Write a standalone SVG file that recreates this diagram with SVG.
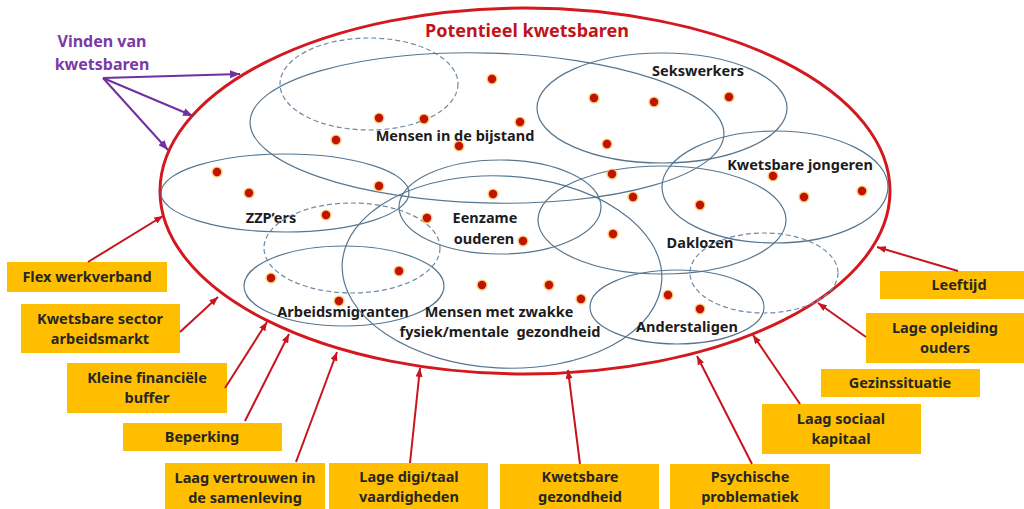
<svg xmlns="http://www.w3.org/2000/svg" xmlns:xlink="http://www.w3.org/1999/xlink" width="1024" height="509" viewBox="0 0 1024 509">
<style>
.main{fill:none;stroke:#d3191f;stroke-width:3}
.grp{fill:none;stroke:#56768f;stroke-width:1.2}
.dash{fill:none;stroke:#6f8ba3;stroke-width:1.2;stroke-dasharray:5 3}
.lbl{font-family:"Noto Sans","Liberation Sans",sans-serif;font-weight:700;font-size:14.5px;fill:#1c1c1c;text-anchor:middle}
.title{font-family:"Noto Sans","Liberation Sans",sans-serif;font-weight:700;font-size:18px;fill:#c0141c;text-anchor:middle}
.purple{font-family:"Noto Sans","Liberation Sans",sans-serif;font-weight:700;font-size:16px;fill:#7a3aa6;text-anchor:middle}
.box{fill:#ffbf00}
.btxt{font-family:"Noto Sans","Liberation Sans",sans-serif;font-weight:700;font-size:14.5px;fill:#262626;text-anchor:middle}
.red{fill:none;stroke:#c8141c;stroke-width:2;marker-end:url(#ar)}
.pur{fill:none;stroke:#7030a0;stroke-width:2;marker-end:url(#ap)}
</style>
<defs>
<marker id="ar" viewBox="0 0 10 8" refX="10" refY="4" markerWidth="9" markerHeight="7" markerUnits="userSpaceOnUse" orient="auto"><path d="M0,0 L10,4 L0,8 z" fill="#c8141c"/></marker>
<marker id="ap" viewBox="0 0 10 8" refX="10" refY="4" markerWidth="10" markerHeight="8" markerUnits="userSpaceOnUse" orient="auto"><path d="M0,0 L10,4 L0,8 z" fill="#7030a0"/></marker>
<g id="dot"><circle r="5.6" fill="#f6b545" opacity="0.7"/><circle r="4.2" fill="#c01400"/></g>
</defs>
<rect width="1024" height="509" fill="#ffffff"/>

<g id="potentieel">
<ellipse class="main" cx="525" cy="191" rx="365" ry="183"/>
<text class="title" x="527" y="37">Potentieel kwetsbaren</text>
</g>

<g id="vinden">
<text class="purple" x="102" y="47">Vinden van</text>
<text class="purple" x="102" y="70">kwetsbaren</text>
</g>

<g id="dashed-top"><ellipse class="dash" cx="369" cy="84" rx="89" ry="46"/></g>
<g id="bijstand"><ellipse class="grp" cx="487" cy="128" rx="237" ry="75" transform="rotate(1.5 487 128)"/><text class="lbl" x="455" y="141">Mensen in de bijstand</text></g>
<g id="sekswerkers"><ellipse class="grp" cx="662" cy="108" rx="125" ry="55"/><text class="lbl" x="698" y="76">Sekswerkers</text></g>
<g id="jongeren"><ellipse class="grp" cx="775" cy="187" rx="113" ry="56"/><text class="lbl" x="800" y="170">Kwetsbare jongeren</text></g>
<g id="zzp"><ellipse class="grp" cx="285" cy="193" rx="124" ry="39"/><text class="lbl" x="271" y="223">ZZP’ers</text></g>
<g id="eenzame"><ellipse class="grp" cx="500" cy="207" rx="101" ry="47"/><text class="lbl" x="485" y="223">Eenzame</text><text class="lbl" x="484" y="244">ouderen</text></g>
<g id="daklozen"><ellipse class="grp" cx="662" cy="220" rx="124" ry="54"/><text class="lbl" x="700" y="248">Daklozen</text></g>
<g id="dashed-mid"><ellipse class="dash" cx="352" cy="248" rx="88" ry="45"/></g>
<g id="arbeidsmigranten"><ellipse class="grp" cx="344" cy="286" rx="100" ry="40"/><text class="lbl" x="343" y="317">Arbeidsmigranten</text></g>
<g id="zwakke"><ellipse class="grp" cx="502" cy="272" rx="160" ry="96" transform="rotate(3 502 272)"/><text class="lbl" x="499" y="317">Mensen met zwakke</text><text class="lbl" x="500" y="337" xml:space="preserve">fysiek/mentale  gezondheid</text></g>
<g id="anderstaligen"><ellipse class="grp" cx="677" cy="307" rx="87" ry="37"/><text class="lbl" x="687" y="332">Anderstaligen</text></g>
<g id="dashed-right"><ellipse class="dash" cx="764" cy="273" rx="74" ry="40"/></g>

<g id="dots">
<use href="#dot" x="492" y="79"/><use href="#dot" x="379" y="118"/><use href="#dot" x="424" y="119"/><use href="#dot" x="520" y="122"/>
<use href="#dot" x="336" y="140"/><use href="#dot" x="459" y="146"/><use href="#dot" x="594" y="98"/><use href="#dot" x="654" y="102"/>
<use href="#dot" x="729" y="97"/><use href="#dot" x="607" y="144"/><use href="#dot" x="217" y="172"/><use href="#dot" x="249" y="193"/>
<use href="#dot" x="379" y="186"/><use href="#dot" x="493" y="194"/><use href="#dot" x="612" y="174"/><use href="#dot" x="633" y="197"/>
<use href="#dot" x="773" y="176"/><use href="#dot" x="804" y="197"/><use href="#dot" x="862" y="191"/><use href="#dot" x="700" y="205"/>
<use href="#dot" x="326" y="215"/><use href="#dot" x="427" y="218"/><use href="#dot" x="523" y="241"/><use href="#dot" x="613" y="234"/>
<use href="#dot" x="271" y="278"/><use href="#dot" x="399" y="271"/><use href="#dot" x="482" y="285"/><use href="#dot" x="549" y="285"/>
<use href="#dot" x="581" y="299"/><use href="#dot" x="339" y="301"/><use href="#dot" x="668" y="295"/><use href="#dot" x="700" y="309"/>
</g>

<g id="flex"><rect class="box" x="7" y="262" width="160" height="30"/><text class="btxt" x="87" y="282">Flex werkverband</text></g>
<g id="sector"><rect class="box" x="21" y="304" width="159" height="49"/><text class="btxt" x="100" y="324">Kwetsbare sector</text><text class="btxt" x="100" y="344">arbeidsmarkt</text></g>
<g id="buffer"><rect class="box" x="67" y="363" width="160" height="50"/><text class="btxt" x="147" y="383">Kleine financiële</text><text class="btxt" x="147" y="403">buffer</text></g>
<g id="beperking"><rect class="box" x="123" y="423" width="159" height="28"/><text class="btxt" x="202" y="442">Beperking</text></g>
<g id="vertrouwen"><rect class="box" x="165" y="463" width="160" height="46"/><text class="btxt" x="245" y="483">Laag vertrouwen in</text><text class="btxt" x="245" y="503">de samenleving</text></g>
<g id="digi"><rect class="box" x="329" y="463" width="159" height="46"/><text class="btxt" x="409" y="482">Lage digi/taal</text><text class="btxt" x="409" y="502">vaardigheden</text></g>
<g id="gezondheid"><rect class="box" x="500" y="464" width="159" height="45"/><text class="btxt" x="580" y="482">Kwetsbare</text><text class="btxt" x="580" y="502">gezondheid</text></g>
<g id="psychische"><rect class="box" x="670" y="464" width="160" height="45"/><text class="btxt" x="750" y="482">Psychische</text><text class="btxt" x="750" y="502">problematiek</text></g>
<g id="sociaal"><rect class="box" x="762" y="404" width="159" height="50"/><text class="btxt" x="841" y="424">Laag sociaal</text><text class="btxt" x="841" y="444">kapitaal</text></g>
<g id="gezin"><rect class="box" x="821" y="369" width="159" height="28"/><text class="btxt" x="900" y="388">Gezinssituatie</text></g>
<g id="opleiding"><rect class="box" x="866" y="313" width="158" height="50"/><text class="btxt" x="945" y="333">Lage opleiding</text><text class="btxt" x="945" y="353">ouders</text></g>
<g id="leeftijd"><rect class="box" x="880" y="271" width="144" height="28"/><text class="btxt" x="959" y="290">Leeftijd</text></g>

<g id="connectors">
<path class="pur" d="M103,78 L240,74"/>
<path class="pur" d="M103,78 L193,116"/>
<path class="pur" d="M103,78 L168,150"/>
<path class="red" d="M88,262 L163,216"/>
<path class="red" d="M180,332 L218,297"/>
<path class="red" d="M225,388 L267,322"/>
<path class="red" d="M245,421 L289,334"/>
<path class="red" d="M296,462 L337,352"/>
<path class="red" d="M410,463 L420,368"/>
<path class="red" d="M580,464 L568,370"/>
<path class="red" d="M752,464 L697,356"/>
<path class="red" d="M800,404 L753,335"/>
<path class="red" d="M866,337 L818,303"/>
<path class="red" d="M958,271 L877,247"/>
</g>
</svg>
